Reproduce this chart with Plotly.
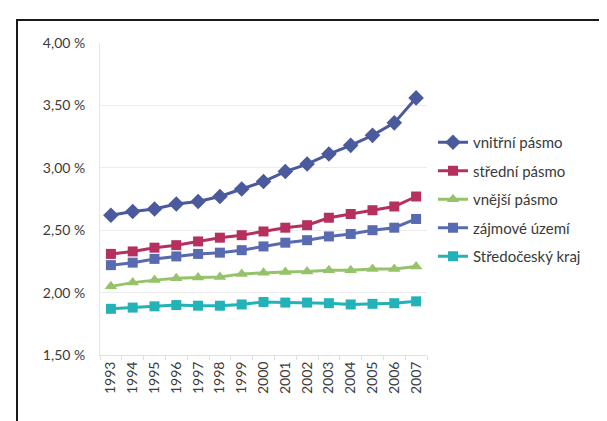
import plotly.graph_objects as go

years = [str(y) for y in range(1993, 2008)]

vnitrni = [2.62, 2.65, 2.67, 2.71, 2.73, 2.77, 2.83, 2.89, 2.97, 3.03, 3.11, 3.18, 3.26, 3.36, 3.56]
stredni = [2.31, 2.33, 2.36, 2.38, 2.41, 2.44, 2.46, 2.49, 2.52, 2.54, 2.60, 2.63, 2.66, 2.69, 2.77]
vnejsi = [2.05, 2.08, 2.10, 2.115, 2.12, 2.125, 2.15, 2.16, 2.165, 2.17, 2.18, 2.18, 2.19, 2.19, 2.21]
zajmove = [2.22, 2.24, 2.27, 2.29, 2.31, 2.32, 2.34, 2.37, 2.40, 2.42, 2.45, 2.47, 2.50, 2.52, 2.59]
stredocesky = [1.87, 1.88, 1.89, 1.90, 1.895, 1.895, 1.905, 1.925, 1.92, 1.92, 1.915, 1.905, 1.91, 1.915, 1.93]

series_names = ["vnitřní pásmo", "střední pásmo", "vnější pásmo", "zájmové území", "Středočeský kraj"]
series_values = [vnitrni, stredni, vnejsi, zajmove, stredocesky]
series_colors = ["#4b5a9c", "#b5305f", "#96c36a", "#586bb0", "#22b2b8"]
series_symbols = ["diamond", "square", "triangle-up", "square", "square"]
series_msizes = [12, 10, 11, 10, 10]

y_tickvals = [1.5, 2.0, 2.5, 3.0, 3.5, 4.0]
y_ticktext = ["1,50 %", "2,00 %", "2,50 %", "3,00 %", "3,50 %", "4,00 %"]

FONT = "Lato"
TXT = "#3a3a3a"
FS = 14
FSL = 15

fig = go.Figure()
for i, (name, vals, col, sym, ms) in enumerate(zip(series_names, series_values, series_colors, series_symbols, series_msizes)):
    fig.add_trace(go.Scatter(
        x=years, y=vals, name=name, mode="lines+markers",
        line=dict(color=col, width=3),
        marker=dict(symbol=sym, size=ms, color=col),
        legendgroup=str(i),
    ))

W, H = 607, 421
L, R, T, B = 92, 188, 35, 74
pw = W - L - R
ph = H - T - B

def px_x(p):
    return (p - L) / pw

def px_y(p):
    return (H - B - p) / ph

fig.update_layout(
    width=W, height=H,
    margin=dict(l=L, r=R, t=T, b=B, pad=0),
    paper_bgcolor="white", plot_bgcolor="white",
    font=dict(family=FONT, size=FS, color=TXT),
    showlegend=True,
    legend=dict(
        x=px_x(425), y=px_y(118), xanchor="left", yanchor="top",
        font=dict(family=FONT, size=FSL, color=TXT),
        tracegroupgap=6, itemwidth=30, bgcolor="rgba(0,0,0,0)",
    ),
    xaxis=dict(
        type="category", range=[-0.5, 14.5], showgrid=False,
        showline=True, linecolor="#e0e0e0", linewidth=1,
        ticks="outside", tickson="boundaries", ticklen=4, tickcolor="#e0e0e0",
        tickangle=-90, tickfont=dict(family=FONT, size=FS, color=TXT),
        fixedrange=True,
    ),
    yaxis=dict(
        range=[1.5, 4.0], tickvals=y_tickvals, ticktext=y_ticktext,
        showgrid=True, gridcolor="#ececec", gridwidth=1,
        showline=True, linecolor="#e6e6e6", linewidth=1,
        zeroline=False, ticks="", ticklabelstandoff=11,
        tickfont=dict(family=FONT, size=FS, color=TXT),
    ),
    shapes=[dict(
        type="rect", xref="paper", yref="paper",
        x0=px_x(9), x1=px_x(720), y0=px_y(470), y1=px_y(12),
        line=dict(color="#1a1a1a", width=2), fillcolor="rgba(0,0,0,0)", layer="above",
    )],
)

fig.write_html("out.html")
